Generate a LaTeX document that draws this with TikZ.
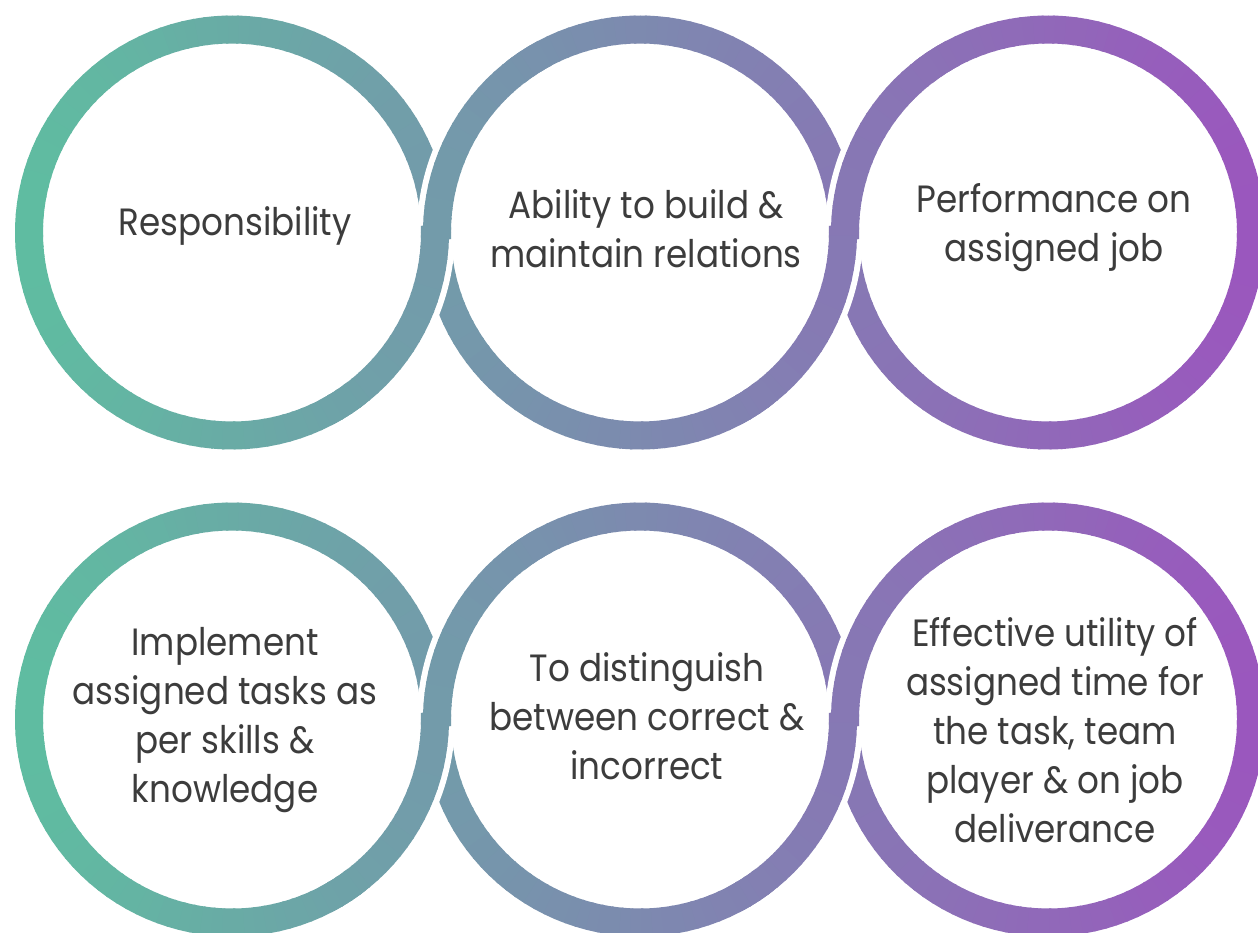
\documentclass[tikz,border=0pt]{standalone}
\usepackage{fontspec}
\setmainfont{Poppins}[FakeStretch=0.9]

\definecolor{ringteal}{RGB}{94,190,160}
\definecolor{ringpurple}{RGB}{155,86,190}
\definecolor{textgray}{RGB}{60,60,60}

\tikzset{
  ringline/.style={line width=28pt, line cap=butt},
  ringhalo/.style={draw=white, line width=40pt, line cap=butt},
  ringtext/.style={align=center, text=textgray, inner sep=0pt,
                   font=\fontsize{38}{49}\selectfont},
}

% Arc of radius #3 around (#1,#2) from angle #4 to #5, coloured
% from teal (left edge of the sheet) to purple (right edge).
\newcommand\GradArc[5]{%
  \pgfmathtruncatemacro\gn{max(1,ceil(abs(#5-#4)/3))}%
  \pgfmathsetmacro\gd{(#5-#4)/\gn}%
  \foreach \k in {1,...,\gn}{%
    \pgfmathsetmacro\ga{#4+(\k-1)*\gd}%
    \pgfmathsetmacro\gb{#4+min(\k+0.2,\gn)*\gd}%
    \pgfmathsetmacro\gm{#4+(\k-0.5)*\gd}%
    \pgfmathtruncatemacro\gp{min(100,max(0,(#1+#3*cos(\gm))/12.58))}%
    \draw[ringline, draw=ringpurple!\gp!ringteal]
      ({#1+#3*cos(\ga)},{#2+#3*sin(\ga)}) arc[start angle=\ga, end angle=\gb, radius=#3];
  }%
}

% White cut-outs where the left ring's lower right arc and the right
% ring's upper left arc pass over the other ring.
\newcommand\LinkHalo[3]{%
  \draw[ringhalo] ({#2-203},#3) arc[start angle=180, end angle=128, radius=203];
  \draw[ringhalo] ({#1+203},#3) arc[start angle=0, end angle=-52, radius=203];
}
% The coloured arcs run a little past the cut-outs on both ends.
\newcommand\LinkOver[3]{%
  \GradArc{#2}{#3}{203}{182}{118}%
  \GradArc{#1}{#3}{203}{2}{-62}%
}

\begin{document}
\begin{tikzpicture}[x=1pt, y=1pt]
  \useasboundingbox (0,0) rectangle (1258,932);
  \fill[white] (0,0) rectangle (1258,932);

  % full rings, two rows of three (last segment overlaps the first)
  \foreach \cy in {699.5, 212.5}{
    \foreach \cx in {232, 640, 1048}{
      \GradArc{\cx}{\cy}{203}{-1.5}{360}
    }
  }

  % interlocking joints
  \foreach \cy in {699.5, 212.5}{
    \LinkHalo{232}{640}{\cy}
    \LinkHalo{640}{1048}{\cy}
  }
  \foreach \cy in {699.5, 212.5}{
    \LinkOver{232}{640}{\cy}
    \LinkOver{640}{1048}{\cy}
  }

  % labels
  \node[ringtext] (resp) at (235,706.5) {Responsibility};
  \node[ringtext] (relations) at (646,703) {Ability to build \&\\maintain relations};
  \node[ringtext] (performance) at (1054,704) {Performance on\\assigned job};
  \node[ringtext] (implement) at (225,212) {Implement\\assigned tasks as\\per skills \&\\knowledge};
  \node[ringtext] (distinguish) at (647,215.5) {To distinguish\\between correct \&\\incorrect};
  \node[ringtext] (utility) at (1055,202) {Effective utility of\\assigned time for\\the task, team\\player \& on job\\deliverance};
\end{tikzpicture}
\end{document}
